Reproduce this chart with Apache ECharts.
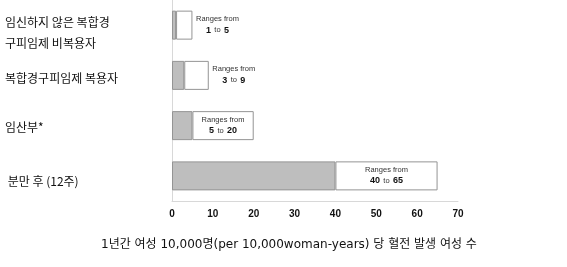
<!DOCTYPE html>
<html><head><meta charset="utf-8">
<script src="https://cdn.jsdelivr.net/npm/echarts@6/dist/echarts.min.js"></script>
<style>html,body{margin:0;padding:0;background:#fff}#c{width:567px;height:267px}</style>
</head><body><div id="c"></div>
<script>
const categories = ['임신하지 않은 복합경\n구피임제 비복용자', '복합경구피임제 복용자', '임산부*', ' 분만 후 (12주)'];
const lowValues = [1, 3, 5, 40];
const highValues = [5, 9, 20, 65];
const tickMax = 70;
const tickInterval = 10;
const axisTitle = '1년간 여성 10,000명(per 10,000woman-years) 당 혈전 발생 여성 수';

const labelPos = ['right', 'right', 'inside', 'inside'];
const labelShift = [15, 6, 4, 12];
const chart = echarts.init(document.getElementById('c'));
const rangeData = highValues.map((h, i) => ({
  value: h - lowValues[i],
  label: {
    show: true,
    position: labelPos[i],
    distance: 4,
    formatter: '{a|Ranges from}\n{b|' + lowValues[i] + '} {c|to} {b|' + h + '}',
    align: 'center',
    offset: labelPos[i] === 'right' ? [21, 0] : [0, 0],
    rich: {
      a: {fontSize: 7.5, fontFamily: 'Liberation Sans', color: '#333', lineHeight: 10, align: 'center'},
      b: {fontSize: 9, fontWeight: 'bold', fontFamily: 'Liberation Sans', color: '#111', lineHeight: 10},
      c: {fontSize: 7.5, fontFamily: 'Liberation Sans', color: '#333', lineHeight: 10}
    }
  }
}));
const yRich = {};
labelShift.forEach((p, i) => {
  yRich['r' + i] = {fontSize: 12, lineHeight: 21, color: '#111', fontFamily: 'Noto Sans CJK KR', padding: [p, 0, 0, 0]};
});
chart.setOption({
  animation: false,
  title: {
    text: axisTitle, left: 96, top: 234,
    textStyle: {fontSize: 12, fontWeight: 'normal', color: '#111', fontFamily: 'DejaVu Sans, Noto Sans CJK KR'}
  },
  grid: {left: 172, right: 109, top: 0, bottom: 66},
  xAxis: {
    type: 'value', min: 0, max: tickMax, interval: tickInterval,
    axisLine: {show: true, lineStyle: {color: '#d8d8d8'}},
    axisTick: {show: false},
    splitLine: {show: false},
    axisLabel: {margin: 8, fontSize: 10, fontWeight: 'bold', color: '#111', fontFamily: 'Liberation Sans'}
  },
  yAxis: {
    type: 'category', data: categories, inverse: true,
    axisLine: {show: true, lineStyle: {color: '#d8d8d8'}},
    axisTick: {show: false},
    axisLabel: {
      align: 'left', margin: 167,
      formatter: (v, i) => v.split('\n').map(s => '{r' + i + '|' + s + '}').join('\n'),
      rich: yRich
    }
  },
  series: [
    {type: 'bar', stack: 's', data: lowValues, barWidth: 29,
     itemStyle: {color: '#bebebe', borderColor: '#949494', borderWidth: 1}},
    {type: 'bar', stack: 's', data: rangeData, barWidth: 29,
     itemStyle: {color: '#ffffff', borderColor: '#949494', borderWidth: 1}}
  ]
});
</script></body></html>
